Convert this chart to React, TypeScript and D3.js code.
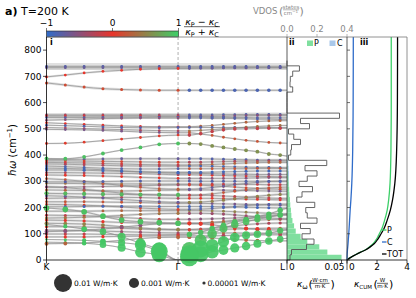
import * as d3 from 'd3';
import React from 'react';

// wavevector path K -> Γ -> L (path length, K–Γ = 1); dots sit on the first 17 points
const qPos = [0, 0.143, 0.286, 0.429, 0.571, 0.714, 0.857, 1, 1.086, 1.172, 1.259, 1.345, 1.431, 1.517, 1.603, 1.69, 1.776, 1.828];
const qTicks = [0, 1, 1.828];
const qLabels = ['K', 'Γ', 'L'];

// phonon branches (cm^-1), 18 points along the path
const bandFreq = [
  [738,738,738,738,738,738,738,738,738,738,738,738,738,738,738,738,738,738],
  [733,733,733,733,733,733,733,733,733,733,733,733,733,733,733,733,733,733],
  [698,705,713,719,723,727,729,730,730,731,731,732,732,732,733,733,733,733],
  [675,667,659,653,650,648,647,647,647,647,647,647,647,647,647,647,647,647],
  [553,553,553,553,553,553,553,553,553,553,553,554,554,555,555,555,555,555],
  [549,549,549,549,549,549,548,548,548,548,548,548,549,550,551,551,551,551],
  [543,543,543,544,544,544,545,545,545,545,544,544,543,543,542,542,542,542],
  [533,535,537,539,540,541,541,541,541,541,540,540,539,538,537,537,536,536],
  [523,520,517,514,511,509,508,508,508,510,513,517,521,525,528,530,531,531],
  [514,512,510,507,505,504,504,505,505,505,505,505,505,505,505,505,505,505],
  [505,503,501,499,497,495,493,492,492,494,497,500,503,506,509,511,513,513],
  [498,497,496,494,491,488,486,485,485,480,475,468,462,456,452,448,446,445],
  [444,445,449,455,461,467,473,476,476,482,490,496,499,500,501,502,502,502],
  [387,386,393,406,419,429,441,444,444,442,435,429,423,418,413,404,400,396],
  [383,383,384,385,386,386,386,386,386,386,385,384,383,382,381,381,381,381],
  [378,378,377,376,375,374,373,373,373,373,374,375,376,377,377,378,378,378],
  [372,371,370,368,366,364,363,362,362,363,364,366,368,370,371,372,372,372],
  [366,365,363,361,359,358,358,358,358,358,357,356,355,354,353,353,352,352],
  [358,356,353,350,348,347,347,348,348,348,348,348,348,348,349,349,349,349],
  [343,343,342,340,338,336,335,334,334,334,335,336,337,338,339,339,339,339],
  [333,333,332,331,330,329,327,325,325,324,323,322,321,320,319,318,317,317],
  [324,323,322,320,318,315,313,311,311,311,311,311,311,312,313,314,314,314],
  [298,298,298,299,300,301,301,301,301,300,300,300,300,300,300,300,299,299],
  [292,292,291,290,290,290,289,289,289,289,289,289,289,288,288,287,287,287],
  [277,278,279,280,281,283,285,286,286,285,283,281,278,275,273,271,270,270],
  [267,266,265,264,263,264,266,267,267,267,267,266,266,265,264,263,262,262],
  [254,253,252,251,250,249,249,248,248,247,246,244,242,240,238,236,235,235],
  [235,236,237,238,239,238,236,235,235,235,235,234,233,232,231,230,229,229],
  [222,222,222,221,220,219,217,216,216,216,215,214,213,212,211,210,209,209],
  [203,203,204,205,205,205,204,204,204,204,204,203,202,201,200,199,198,198],
  [186,186,186,187,188,188,188,188,188,188,187,186,184,182,180,178,176,175],
  [198,193,184,167,152,146,143,140,140,141,144,147,152,158,162,166,170,172],
  [171,170,169,166,162,158,155,155,155,156,157,158,160,163,167,170,172,173],
  [152,151,149,146,143,141,139,138,138,139,141,144,147,150,152,154,155,155],
  [140,139,137,133,127,122,118,116,116,118,121,125,130,135,138,140,141,141],
  [127,127,126,124,121,118,116,115,115,115,116,117,118,119,120,121,121,121],
  [114,113,112,110,108,106,104,103,103,103,103,103,103,102,102,102,102,102],
  [99,99,99,98,97,96,96,97,97,105,120,133,146,155,165,175,190,198],
  [88,88,88,89,90,91,92,92,92,92,92,93,94,95,96,96,96,96],
  [280,276,270,262,255,250,247,246,246,248,252,257,262,268,272,275,277,278],
  [310,306,300,292,284,277,272,270,270,272,276,281,287,292,296,299,301,302],
  [245,243,240,236,231,226,222,220,220,221,224,228,233,238,243,247,250,251],
  [160,161,163,166,170,174,177,178,178,178,177,175,172,168,164,160,158,157],
  [108,110,113,118,125,132,138,140,140,138,134,129,124,120,117,115,114,114],
  [350,349,347,344,340,336,333,331,331,330,329,328,327,327,326,326,326,326],
  [212,211,209,206,202,198,195,193,193,194,196,199,203,207,210,212,213,213],
  [62,63,65,69,75,82,86,87,87,86,84,81,78,76,74,73,73,73],
  [68,67,64,58,47,30,20,0,12,22,31,38,46,53,62,72,80,83],
  [78,77,75,71,66,57,33,0,22,42,56,70,86,94,98,102,112,116],
  [135,128,118,108,89,64,40,0,40,75,100,120,135,146,155,163,172,176],
];

// (κP − κC)/(κP + κC) of the dots on the K–Γ side and on the Γ–L side
const bandRatio = [
  [-0.8,-0.8],[-0.7,-0.85],[0.0,-0.7],[0.15,-0.85],[-0.4,-0.8],[-0.1,-0.5],[-0.8,-0.8],[-0.5,-0.8],
  [0.0,0.3],[-0.8,-0.8],[-0.3,0.4],[-0.6,0.2],[0.05,-0.2],[0.9,0.6],
  [-0.7,-0.8],[0.1,-0.3],[-0.1,0.3],[-0.3,-0.9],[-0.8,0.2],[-0.9,-0.9],[-0.3,0.0],[0.0,-0.5],
  [-0.8,-0.8],[0.4,-0.2],[-0.4,0.1],[0.3,-0.6],[0.85,-0.2],[-0.3,0.0],[0.2,-0.6],[-0.9,-0.9],
  [0.3,0.5],[0.9,0.2],[-0.2,-0.5],[0.0,0.4],[0.5,-0.3],[0.1,0.1],[-0.4,0.3],[-0.2,0.9],[0.0,-0.3],
  [-0.5,0.2],[0.2,-0.7],[-0.7,0.5],[0.4,-0.4],[-0.5,0.0],[-0.9,-0.6],[0.1,-0.8],[0.3,0.3],
  [0.95,0.95],[0.95,0.95],[0.95,0.9],
];

// mode κ (W/m·K) of the dots, K–Γ side and Γ–L side
const bandKappa = [
  [6e-6,6e-6],[6e-6,6e-6],[6e-6,6e-6],[8e-6,1.5e-5],[5e-6,5e-6],[5e-6,5e-6],[5e-6,6e-6],[5e-6,5e-6],
  [5e-6,6e-6],[6e-6,6e-6],[5e-6,6e-6],[5e-6,6e-6],[6e-6,1.5e-5],[2e-5,2e-5],
  [6e-6,6e-6],[6e-6,6e-6],[6e-6,6e-6],[6e-6,6e-6],[6e-6,6e-6],[8e-6,8e-6],[6e-6,6e-6],[6e-6,6e-6],
  [8e-6,8e-6],[6e-6,6e-6],[6e-6,6e-6],[8e-6,6e-6],[3e-5,8e-6],[6e-6,6e-6],[6e-6,6e-6],[8e-6,8e-6],
  [6e-6,6e-6],[1e-4,1e-5],[8e-6,8e-6],[1e-5,1e-5],[2e-5,1e-5],[1e-5,1e-5],[1e-5,1e-5],[1e-5,8e-5],[1e-5,2e-5],
  [6e-6,6e-6],[6e-6,6e-6],[8e-6,1e-5],[1e-5,1e-5],[2e-5,3e-5],[6e-6,6e-6],[6e-6,6e-6],[2e-5,2e-5],
  [0,0],[0,0],[0,0],
];
// acoustic branches: κ at each of the 17 dots
const acousticKappa = [
  [4e-6,8e-6,4e-5,1.8e-4,4e-4,1.2e-3,5e-3,0,1.2e-2,6e-3,3e-3,9e-4,7e-4,5e-4,4e-4,3e-4,2e-4],
  [4e-6,8e-6,3e-5,1e-4,2.5e-4,1.5e-3,8e-3,0,1e-2,8e-3,2.5e-3,1.5e-3,8e-4,4e-4,3e-4,2e-4,1.5e-4],
  [1e-5,3e-5,1e-4,1.8e-4,4e-4,1e-3,4e-3,0,5e-3,2e-3,8e-4,4e-4,3e-4,2e-4,1.5e-4,1e-4,1e-4],
];
const acousticStart = 47;

// linewidth shading of each branch (cm^-1)
const bandWidth = [26,18,8,10,14,12,12,8,6,6,6,6,6,6,10,10,10,10,10,10,10,10,10,10,10,10,10,10,10,10,10,8,10,10,10,10,10,8,8,10,10,10,10,8,10,10,6,4,4,4];

// panel ii: 20 cm^-1 bins from 0
const vdos = [0.02,0.03,0.13,0.18,0.10,0.155,0.09,0.20,0.135,0.125,0.185,0.065,0.10,0.17,0.08,0.135,0.20,0.12,0.265,0.01,0.025,0.03,0.09,0.045,0.01,0.15,0.09,0.35,0,0,0,0,0.038,0.02,0.022,0.038,0.083,0];
const kwP = [0.05,0.037,0.0296,0.0186,0.0125,0.008,0.0065,0.005,0.004,0.0036,0.003,0.0027,0.0022,0.002,0.0015,0.0012,0.0008,0.0005,0.0003,0.0002,0.0001,0.0001,0.0001,0.0001,0.0001,0.0001,0.0001,0.0001,0,0,0,0,0.00005,0.00005,0.00005,0.00005,0.00005,0];
const kwC = [0.0005,0.0006,0.0008,0.0009,0.001,0.001,0.0011,0.0012,0.0012,0.0012,0.0013,0.0013,0.0014,0.0014,0.0015,0.0016,0.0018,0.0015,0.0012,0.0006,0.0005,0.0005,0.0006,0.0005,0.0004,0.0005,0.0004,0.0006,0,0,0,0,0.0002,0.0002,0.0002,0.0003,0.0004,0];
const binWidth = 20;

// panel iii: cumulative κ
const cumFreq = [0,10,19,30,38,50,63,80,95,120,150,190,230,293,419,600,850];
const cumP = [0,0.25,0.53,0.9,1.2,1.5,1.76,1.97,2.11,2.33,2.5,2.68,2.78,2.87,2.93,2.95,2.95];
const cumC = [0,0.005,0.01,0.02,0.03,0.05,0.07,0.09,0.11,0.14,0.17,0.21,0.26,0.32,0.38,0.41,0.42];
const cumTot = [0,0.255,0.54,0.92,1.23,1.55,1.83,2.06,2.22,2.47,2.67,2.89,3.04,3.19,3.31,3.36,3.37];

const sizeLegend = [0.01, 0.001, 0.00001];
const sizeLegendText = ['0.01 W/m·K', '0.001 W/m·K', '0.00001 W/m·K'];

const FONT = '"DejaVu Sans", sans-serif';
const GREEN = '#3ccf68';
const BLUE = '#2f6cc9';
const RED = '#e8352b';

const top = 37, bottom = 260;
const xq = d3.scaleLinear().domain([0, 1.828]).range([46.5, 287]);
const yF = d3.scaleLinear().domain([0, 850]).range([bottom, top]);
const xV = d3.scaleLinear().domain([0, 0.4]).range([287, 347]);
const xKw = d3.scaleLinear().domain([0, 0.055]).range([287, 347]);
const xCum = d3.scaleLinear().domain([0, 4]).range([347, 407]);
const xBar = d3.scaleLinear().domain([-1, 1]).range([46.5, 178.5]);
const ratioColor = d3.scaleLinear<string>().domain([-1, 0, 1]).range([BLUE, RED, GREEN]);
const rSize = d3.scalePow().exponent(0.25).domain([0, 0.01]).range([0, 9]);

const bandLine = d3.line<number>().x((_, i) => xq(qPos[i])).y(d => yF(d)).curve(d3.curveMonotoneX);

function Frac({ x, y, num, den, w, size = 6, color = '#000' }: any) {
  return (
    <g fill={color}>
      <text x={x} y={y - 1.3} fontSize={size} textAnchor="middle">{num}</text>
      <line x1={x - w / 2} x2={x + w / 2} y1={y} y2={y} stroke={color} strokeWidth={0.6} />
      <text x={x} y={y + size * 0.85 + 0.5} fontSize={size} textAnchor="middle">{den}</text>
    </g>
  );
}

export default function App() {
  const dots: { x: number; y: number; r: number; c: string }[] = [];
  bandFreq.forEach((f, b) => {
    for (let i = 0; i < 17; i++) {
      if (f[i] <= 0) continue;
      const side = i <= 7 ? 0 : 1;
      const k = b >= acousticStart ? acousticKappa[b - acousticStart][i] : bandKappa[b][side];
      dots.push({ x: xq(qPos[i]), y: yF(f[i]), r: rSize(k), c: ratioColor(bandRatio[b][side]) });
    }
  });
  dots.sort((a, b) => a.r - b.r);

  const binStart = d3.range(0, vdos.length * binWidth, binWidth);
  const stair: [number, number][] = [[xV(0), yF(0)]];
  vdos.forEach((v, i) => {
    stair.push([xV(v), yF(binStart[i])]);
    stair.push([xV(v), yF(binStart[i] + binWidth)]);
  });
  stair.push([xV(0), yF(vdos.length * binWidth)]);

  const cumLine = (vals: number[]) =>
    d3.line<number>().x(d => xCum(d)).y((_, i) => yF(cumFreq[i])).curve(d3.curveMonotoneY)(vals) as string;

  const yTicks = yF.ticks(9);

  return (
    <svg width={416} height={298} style={{ position: 'absolute', left: 0, top: 0 }} fontFamily={FONT}>
      <defs>
        <linearGradient id="cb" x1="0" x2="1" y1="0" y2="0">
          <stop offset="0" stopColor={ratioColor(-1)} />
          <stop offset="0.5" stopColor={ratioColor(0)} />
          <stop offset="1" stopColor={ratioColor(1)} />
        </linearGradient>
        <clipPath id="p1"><rect x={46.5} y={top} width={240.5} height={bottom - top} /></clipPath>
      </defs>

      {/* title */}
      <text x={5} y={15} fontSize={11}><tspan fontWeight="bold">a)</tspan> T=200 K</text>

      {/* colour bar */}
      <rect x={xBar(-1)} y={31} width={xBar(1) - xBar(-1)} height={6} fill="url(#cb)" stroke="#222" strokeWidth={0.6} />
      {[-1, 0, 1].map(t => (
        <g key={t}>
          <line x1={xBar(t)} x2={xBar(t)} y1={31} y2={28} stroke="#222" strokeWidth={0.6} />
          <text x={xBar(t)} y={26} fontSize={9} textAnchor="middle">{t < 0 ? '−1' : t}</text>
        </g>
      ))}
      <Frac x={202} y={26.7} w={36} size={9.5}
        num={<><tspan fontStyle="italic">κ</tspan><tspan fontSize={6.5} dy={2}>P</tspan><tspan dy={-2}> − </tspan><tspan fontStyle="italic">κ</tspan><tspan fontSize={6.5} dy={2}>C</tspan></>}
        den={<><tspan fontStyle="italic">κ</tspan><tspan fontSize={6.5} dy={2}>P</tspan><tspan dy={-2}> + </tspan><tspan fontStyle="italic">κ</tspan><tspan fontSize={6.5} dy={2}>C</tspan></>} />

      {/* VDOS top axis */}
      <text x={253} y={14} fontSize={8.5} fill="#888">VDOS</text>
      <text x={279} y={15} fontSize={11} fill="#888">(</text>
      <Frac x={291} y={9.8} w={16} size={5.5} color="#888" num="states"
        den={<>cm<tspan fontSize={4} dy={-2}>−1</tspan></>} />
      <text x={299.5} y={15} fontSize={11} fill="#888">)</text>
      {[0, 0.2, 0.4].map(t => (
        <g key={t}>
          <line x1={xV(t)} x2={xV(t)} y1={top} y2={top - 3} stroke="#888" strokeWidth={0.6} />
          <text x={xV(t)} y={31.5} fontSize={8.5} fill="#888" textAnchor="middle">{t.toFixed(1)}</text>
        </g>
      ))}

      {/* panel i: branches */}
      <g clipPath="url(#p1)">
        {bandFreq.map((f, b) => (
          <path key={'h' + b} d={bandLine(f) as string} fill="none" stroke="#bdbdbd" strokeOpacity={0.45}
            strokeWidth={yF(0) - yF(bandWidth[b])} />
        ))}
        {bandFreq.map((f, b) => (
          <path key={'l' + b} d={bandLine(f) as string} fill="none" stroke="#8c8c8c" strokeWidth={0.7} />
        ))}
      </g>
      <line x1={xq(1)} x2={xq(1)} y1={top} y2={bottom} stroke="#999" strokeWidth={0.8} strokeDasharray="3,2" />
      {dots.map((d, i) => (
        <circle key={i} cx={d.x} cy={d.y} r={d.r} fill={d.c} fillOpacity={d.r > 3 ? 0.92 : 1} />
      ))}

      {/* panel ii: VDOS and spectral κ */}
      {kwC.map((v, i) => v > 0 && (
        <rect key={'c' + i} x={xKw(0)} y={yF(binStart[i] + binWidth)} width={xKw(v) - xKw(0)}
          height={yF(binStart[i]) - yF(binStart[i] + binWidth)} fill="#a9c8ea" />
      ))}
      {kwP.map((v, i) => v > 0 && (
        <rect key={'p' + i} x={xKw(0)} y={yF(binStart[i] + binWidth)} width={xKw(v) - xKw(0)}
          height={yF(binStart[i]) - yF(binStart[i] + binWidth)} fill="#80df9f" />
      ))}
      <path d={d3.line()(stair) as string} fill="none" stroke="#555" strokeWidth={0.9} />

      {/* panel iii: cumulative κ */}
      <path d={cumLine(cumC)} fill="none" stroke={BLUE} strokeWidth={1.3} />
      <path d={cumLine(cumP)} fill="none" stroke={GREEN} strokeWidth={1.3} />
      <path d={cumLine(cumTot)} fill="none" stroke="#000" strokeWidth={1.3} />

      {/* frames */}
      <line x1={46.5} x2={407} y1={top} y2={top} stroke="#777" strokeWidth={0.8} />
      <line x1={287} x2={287} y1={top} y2={bottom + 10} stroke="#333" strokeWidth={0.8} />
      <line x1={347} x2={347} y1={top} y2={bottom + 10} stroke="#333" strokeWidth={0.8} />
      <line x1={407} x2={407} y1={top} y2={bottom} stroke="#777" strokeWidth={0.8} />
      <line x1={46.5} x2={46.5} y1={top} y2={bottom} stroke="#000" strokeWidth={0.8} />
      <line x1={46.5} x2={407} y1={bottom} y2={bottom} stroke="#000" strokeWidth={0.8} />

      {/* y axis */}
      {yTicks.map(t => (
        <g key={t}>
          <line x1={46.5} x2={43} y1={yF(t)} y2={yF(t)} stroke="#000" strokeWidth={0.7} />
          <line x1={347} x2={350} y1={yF(t)} y2={yF(t)} stroke="#333" strokeWidth={0.7} />
          <text x={41.5} y={yF(t) + 3.2} fontSize={9} textAnchor="end">{t}</text>
        </g>
      ))}
      <text transform="translate(15.5,150) rotate(-90)" fontSize={10} textAnchor="middle">
        <tspan fontStyle="italic">ħω</tspan> (cm<tspan fontSize={7} dy={-3.5}>−1</tspan><tspan dy={3.5}>)</tspan>
      </text>

      {/* x axes */}
      {qTicks.map((q, i) => (
        <g key={q}>
          <line x1={xq(q)} x2={xq(q)} y1={bottom} y2={bottom + 3.5} stroke="#000" strokeWidth={0.7} />
          <text x={i === 2 ? xq(q) - 2 : xq(q)} y={270} fontSize={9} textAnchor={i === 2 ? 'end' : 'middle'}>{qLabels[i]}</text>
        </g>
      ))}
      <text x={xKw(0) + 2} y={270} fontSize={9}>0</text>
      <line x1={xKw(0.05)} x2={xKw(0.05)} y1={bottom} y2={bottom + 3} stroke="#000" strokeWidth={0.7} />
      <text x={xKw(0.05) + 3} y={270} fontSize={9} textAnchor="end">0.05</text>
      {[0, 2, 4].map(t => (
        <g key={t}>
          <line x1={xCum(t)} x2={xCum(t)} y1={bottom} y2={bottom + 3.5} stroke="#000" strokeWidth={0.7} />
          <text x={t === 0 ? xCum(t) + 2 : xCum(t)} y={270} fontSize={9} textAnchor={t === 0 ? 'start' : 'middle'}>{t}</text>
        </g>
      ))}
      <text x={297} y={287} fontSize={9}><tspan fontStyle="italic">κ</tspan><tspan fontSize={6.5} dy={2}>ω</tspan></text>
      <text x={308.5} y={288} fontSize={11}>(</text>
      <Frac x={320} y={283.3} w={19} size={5.5} num="W·cm" den="m·K" />
      <text x={330.5} y={288} fontSize={11}>)</text>
      <text x={354} y={287} fontSize={9}><tspan fontStyle="italic">κ</tspan><tspan fontSize={5.5} dy={2}>CUM</tspan></text>
      <text x={373.5} y={288} fontSize={11}>(</text>
      <Frac x={382.5} y={283.3} w={11} size={5.5} num="W" den="m·K" />
      <text x={389} y={288} fontSize={11}>)</text>

      {/* panel labels and legends */}
      <text x={50} y={45} fontSize={8} fontWeight="bold">i</text>
      <text x={289} y={45} fontSize={8} fontWeight="bold">ii</text>
      <text x={360} y={45} fontSize={8} fontWeight="bold">iii</text>
      <rect x={307} y={40.5} width={6} height={5.5} fill="#80df9f" />
      <text x={314} y={46} fontSize={8}>P</text>
      <rect x={329.5} y={40.5} width={6} height={5.5} fill="#a9c8ea" />
      <text x={337} y={46} fontSize={8}>C</text>
      {[['P', GREEN], ['C', BLUE], ['TOT', '#000']].map(([t, c], i) => (
        <g key={t}>
          <line x1={382} x2={386.5} y1={230 + i * 12} y2={230 + i * 12} stroke={c} strokeWidth={1.3} />
          <text x={387} y={233 + i * 12} fontSize={8}>{t}</text>
        </g>
      ))}

      {/* dot size legend */}
      {sizeLegend.map((k, i) => {
        const cx = [63, 134, 204][i];
        return (
          <g key={k}>
            <circle cx={cx} cy={283} r={rSize(k)} fill="#333" />
            <text x={cx + rSize(k) + 2} y={286} fontSize={7.5}>{sizeLegendText[i]}</text>
          </g>
        );
      })}
    </svg>
  );
}
